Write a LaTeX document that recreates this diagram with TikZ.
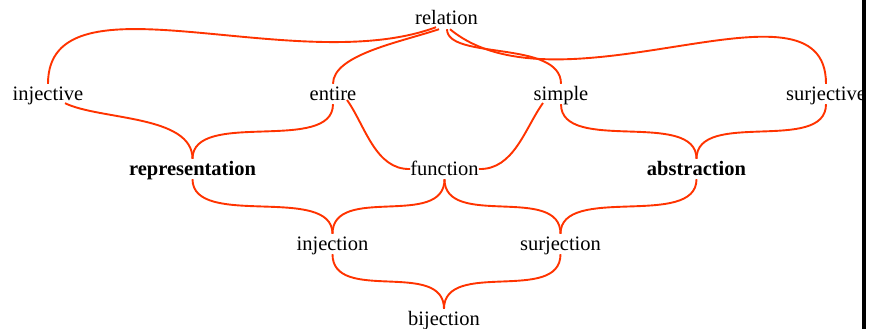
\documentclass[tikz,border=0pt]{standalone}
\usepackage{fontspec}
\setmainfont{Liberation Serif}
\usetikzlibrary{calc}
\definecolor{linkred}{RGB}{255,51,0}
\begin{document}
\begin{tikzpicture}[x=1pt,y=-1pt,
  lbl/.style={anchor=base,inner sep=0pt,text height=16pt,text depth=4pt,
    font=\fontsize{20.5}{24}\selectfont},
  blbl/.style={lbl,font=\fontsize{20.5}{24}\selectfont\bfseries},
  link/.style={draw=linkred,line width=1.9pt}]
\useasboundingbox (0,0) rectangle (873,329);
% nodes
\node[lbl]  (rel) at (446.5,25)  {relation};
\node[lbl]  (inj) at (48,100)    {injective};
\node[lbl]  (ent) at (333,100)   {entire};
\node[lbl]  (sim) at (561,100)   {simple};
\node[lbl]  (sur) at (826,100)   {surjective};
\node[blbl] (rep) at (192.5,175) {representation};
\node[lbl]  (fun) at (444.5,175) {function};
\node[blbl] (abs) at (696.5,175) {abstraction};
\node[lbl]  (ijn) at (332.5,250) {injection};
\node[lbl]  (sjn) at (560.5,250) {surjection};
\node[lbl]  (bij) at (444,325)   {bijection};
% connectors
\draw[link] ($(rel.south)+(-10.5,-2)$) .. controls +(-140,52) and +(0,-115) .. (inj.north);
\draw[link] ($(rel.south)+(-7.5,0)$) .. controls +(-39,13) and +(0,-29) .. (ent.north);
\draw[link] ($(rel.south)+(0.5,0)$) .. controls +(0,31) and +(0,-44) .. (sim.north);
\draw[link] ($(rel.south)+(3.5,0)$) .. controls +(110,91) and +(0,-119) .. (sur.north);
\draw[link] ($(inj.south)+(17,-1)$) .. controls +(35,17) and +(0,-44) .. (rep.north);
\draw[link] (ent.south) .. controls +(0,50) and +(0,-50) .. (rep.north);
\draw[link] ($(ent.base)+(14,0)$) .. controls +(18,25) and +(-35,1) .. (fun.west);
\draw[link] ($(sim.base)+(-18,3)$) .. controls +(-18,25) and +(35,1) .. (fun.east);
\draw[link] (sim.south) .. controls +(0,50) and +(0,-50) .. (abs.north);
\draw[link] (sur.south) .. controls +(0,50) and +(0,-50) .. (abs.north);
\draw[link] (rep.south) .. controls +(0,50) and +(0,-50) .. (ijn.north);
\draw[link] (fun.south) .. controls +(0,50) and +(0,-50) .. (ijn.north);
\draw[link] (fun.south) .. controls +(0,50) and +(0,-50) .. (sjn.north);
\draw[link] (abs.south) .. controls +(0,50) and +(0,-50) .. (sjn.north);
\draw[link] (ijn.south) .. controls +(0,50) and +(0,-50) .. (bij.north);
\draw[link] (sjn.south) .. controls +(0,50) and +(0,-50) .. (bij.north);
% right border bar
\fill[black] (862,0) rectangle (866,329);
\end{tikzpicture}
\end{document}
